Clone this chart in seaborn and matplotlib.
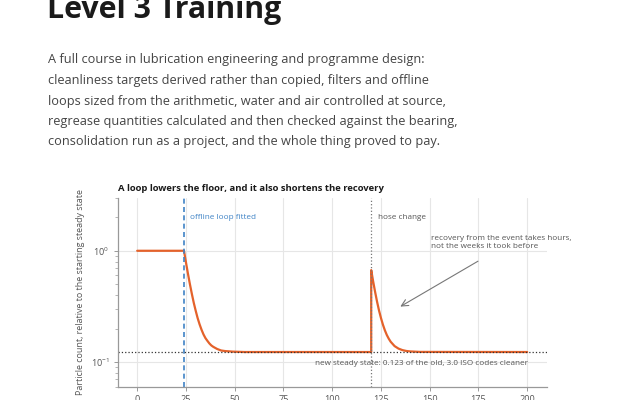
import numpy as np
import pandas as pd
import matplotlib
matplotlib.use("Agg")
import matplotlib.pyplot as plt
import seaborn as sns

# donnees (temps en heures, concentration relative)
temps = [0, 24, 25, 26, 27, 28, 29, 30, 31, 32, 33, 34, 35, 36, 37, 38, 39, 41, 43, 45, 49, 55,
         120, 120, 121, 122, 123, 124, 125, 126, 127, 128, 129, 130, 132, 134, 136, 138, 140, 145, 200]
particules = [1.0, 1.0, 0.787, 0.626, 0.504, 0.412, 0.341, 0.289, 0.248, 0.218, 0.195, 0.177, 0.164,
              0.155, 0.147, 0.141, 0.137, 0.131, 0.127, 0.1255, 0.124, 0.123,
              0.123, 0.670, 0.531, 0.427, 0.349, 0.291, 0.249, 0.217, 0.193, 0.175, 0.162, 0.152,
              0.139, 0.132, 0.128, 0.1257, 0.1245, 0.1233, 0.123]
t_boucle = 24
t_flexible = 120
plancher = 0.123
x_ticks = [0, 25, 50, 75, 100, 125, 150, 175, 200]

titre = "Level 3 Training"
paragraphe = [
    "A full course in lubrication engineering and programme design:",
    "cleanliness targets derived rather than copied, filters and offline",
    "loops sized from the arithmetic, water and air controlled at source,",
    "regrease quantities calculated and then checked against the bearing,",
    "consolidation run as a project, and the whole thing proved to pay.",
]

df = pd.DataFrame({"t": temps, "c": particules})

sns.set_theme(style="whitegrid")
plt.rcParams["font.family"] = ["Open Sans", "DejaVu Sans"]
plt.rcParams["mathtext.fontset"] = "custom"
plt.rcParams["mathtext.rm"] = "Open Sans"
plt.rcParams["mathtext.it"] = "Open Sans"

orange = "#e4622b"
bleu = "#3f83c6"
gris = "#555555"

fig = plt.figure(figsize=(6.4, 4), dpi=100)
fig.patch.set_facecolor("white")

# titre et texte
fig.text(47 / 640, 1 - 18 / 400, titre, fontsize=21.8, fontweight="bold", color="#1a1a1a",
         va="baseline", ha="left")
for i, ligne in enumerate(paragraphe):
    fig.text(48 / 640, 1 - (63.5 + i * 20.5) / 400, ligne, fontsize=9.2, color="#444444",
             va="baseline", ha="left")

ax = fig.add_axes([117.7 / 640, 1 - 386.7 / 400, 429 / 640, 189 / 400])
sns.lineplot(data=df, x="t", y="c", ax=ax, color=orange, linewidth=1.6,
             estimator=None, sort=False)
ax.set_yscale("log")
ax.set_xlim(-10, 210)
ax.set_ylim(0.06, 3.0)
ax.set_xticks(x_ticks)

ax.axvline(t_boucle, color=bleu, linestyle=(0, (3, 2)), linewidth=1.2)
ax.axvline(t_flexible, color="#777777", linestyle=":", linewidth=0.9)
ax.axhline(plancher, color="#333333", linestyle=":", linewidth=0.9)

ax.text(27, 2.0, "offline loop fitted", color=bleu, fontsize=5.9, va="center", ha="left")
ax.text(123.4, 2.0, "hose change", color=gris, fontsize=5.9, va="center", ha="left")
ax.text(150.7, 1.4, "recovery from the event takes hours,\nnot the weeks it took before",
        color=gris, fontsize=5.9, va="top", ha="left", linespacing=1.2)
ax.annotate("", xy=(133.7, 0.306), xytext=(176, 0.83),
            arrowprops=dict(arrowstyle="->", color="#777777", lw=0.8))
ax.text(200.6, 0.0968, "new steady state: 0.123 of the old, 3.0 ISO codes cleaner",
        color=gris, fontsize=5.9, va="center", ha="right")

ax.set_title("A loop lowers the floor, and it also shortens the recovery", loc="left",
             fontsize=6.8, fontweight="bold", color="#1a1a1a", pad=5)
ax.set_xlabel("")
ax.set_ylabel("Particle count, relative to the starting steady state", fontsize=6.4,
              color=gris, labelpad=4)

ax.set_facecolor("white")
ax.grid(True, which="major", color="#e6e6e6", linewidth=0.8)
ax.grid(False, which="minor")
for s in ["top", "right"]:
    ax.spines[s].set_visible(False)
for s in ["left", "bottom"]:
    ax.spines[s].set_color("#999999")
    ax.spines[s].set_linewidth(0.9)
ax.tick_params(axis="both", which="major", labelsize=6.6, labelcolor=gris, colors="#999999",
               length=3, width=0.7, left=True, bottom=True, pad=3)
ax.tick_params(axis="y", which="minor", left=True, length=2, width=0.5, colors="#999999")

fig.savefig("out.png", dpi=100)
